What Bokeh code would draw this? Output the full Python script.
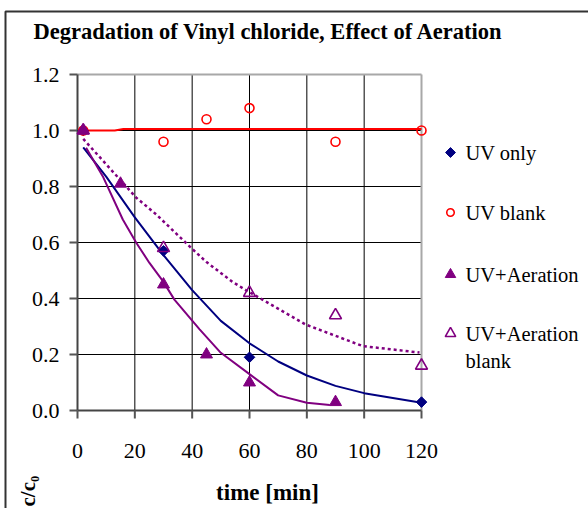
import math
from bokeh.plotting import figure
from bokeh.models import Range1d
from bokeh.core.properties import value
from bokeh.embed import file_html
from bokeh.resources import INLINE

# Measured points
uv_only_t = [2, 30, 60, 120]
uv_only_c = [1.0, 0.57, 0.19, 0.03]

uv_blank_t = [2, 30, 45, 60, 90, 120]
uv_blank_c = [1.0, 0.96, 1.04, 1.08, 0.96, 1.0]

uv_aer_t = [2, 15, 30, 45, 60, 90]
uv_aer_c = [1.0, 0.81, 0.45, 0.20, 0.10, 0.03]

uv_aer_blank_t = [2, 30, 60, 90, 120]
uv_aer_blank_c = [1.0, 0.58, 0.42, 0.34, 0.16]

# Model curves
fit_uv_only_t = [2, 10, 20, 30, 40, 50, 60, 70, 80, 90, 100, 110, 120]
fit_uv_only_c = [0.94, 0.835, 0.69, 0.555, 0.43, 0.32, 0.24, 0.175, 0.125, 0.088, 0.062, 0.045, 0.028]

fit_uv_blank_t = [2, 13, 16, 120]
fit_uv_blank_c = [1.0, 1.0, 1.005, 1.005]

fit_uv_aer_t = [3, 8.8, 15.8, 20.5, 25.1, 29.8, 33.8, 42.6, 50, 60, 70, 80, 88]
fit_uv_aer_c = [0.938, 0.837, 0.682, 0.599, 0.527, 0.462, 0.396, 0.29, 0.206, 0.13, 0.054, 0.028, 0.02]

fit_uv_aer_blank_t = [2, 17, 20.5, 27.5, 39, 45, 54, 58.7, 79.6, 99.5, 119.3]
fit_uv_aer_blank_c = [0.97, 0.80, 0.76, 0.70, 0.587, 0.53, 0.46, 0.43, 0.307, 0.23, 0.207]

x_ticks = [0, 20, 40, 60, 80, 100, 120]
x_tick_labels = ["0", "20", "40", "60", "80", "100", "120"]
y_ticks = [0.0, 0.2, 0.4, 0.6, 0.8, 1.0, 1.2]
y_tick_labels = ["0.0", "0.2", "0.4", "0.6", "0.8", "1.0", "1.2"]

series_names = ["UV only", "UV blank", "UV+Aeration", "UV+Aeration\nblank"]

NAVY = "#000080"
RED = "#ff0000"
PURPLE = "#800080"
SERIF = value("Liberation Serif")

W, H = 588, 508
# plot area edges in canvas pixels
LEFT, RIGHT, TOP, BOTTOM = 77, 421, 74, 410
X0, X1, Y0, Y1 = 0, 120, 0, 1.2


def dx(px):
    return X0 + (px - LEFT) * (X1 - X0) / (RIGHT - LEFT)


def dy(py):
    return Y0 + (BOTTOM - py) * (Y1 - Y0) / (BOTTOM - TOP)


# the frame covers the whole canvas so nothing outside the axes is clipped
p = figure(width=W, height=H, output_backend="svg", toolbar_location=None,
           x_range=Range1d(dx(0), dx(W)), y_range=Range1d(dy(H), dy(0)),
           x_axis_type=None, y_axis_type=None,
           min_border=0, min_border_left=0, min_border_right=0, min_border_top=0, min_border_bottom=0)
p.grid.visible = False
p.outline_line_color = None
p.background_fill_color = "white"
p.border_fill_color = "white"

# grid
inner_x = x_ticks[1:-1]
inner_y = y_ticks[1:-1]
p.segment(x0=inner_x, y0=[Y0] * len(inner_x), x1=inner_x, y1=[Y1] * len(inner_x),
          line_color="black", line_width=1)
p.segment(x0=[X0] * len(inner_y), y0=inner_y, x1=[X1] * len(inner_y), y1=inner_y,
          line_color="black", line_width=1)
# top and right edges of the plot area
p.segment(x0=[X0, X1], y0=[Y1, Y0], x1=[X1, X1], y1=[Y1, Y1], line_color="#a8a8a8", line_width=2)

# axes
p.segment(x0=[X0, X0], y0=[Y0, Y0], x1=[X0, X1], y1=[Y1, Y0], line_color="#444444", line_width=2)
p.segment(x0=[dx(LEFT - 8)] * len(y_ticks), y0=y_ticks, x1=[X0] * len(y_ticks), y1=y_ticks,
          line_color="#555555", line_width=2)
p.segment(x0=x_ticks, y0=[Y0] * len(x_ticks), x1=x_ticks, y1=[dy(BOTTOM + 8)] * len(x_ticks),
          line_color="#555555", line_width=2)
p.text(x=[dx(59)] * len(y_ticks), y=y_ticks, text=y_tick_labels, text_font=SERIF,
       text_font_size="22px", text_align="right", text_baseline="middle", text_color="black")
p.text(x=x_ticks, y=[dy(450)] * len(x_ticks), text=x_tick_labels, text_font=SERIF,
       text_font_size="22px", text_align="center", text_baseline="middle", text_color="black")

# fitted curves
p.line(fit_uv_blank_t, fit_uv_blank_c, line_color=RED, line_width=2)
p.line(fit_uv_only_t, fit_uv_only_c, line_color=NAVY, line_width=2)
p.line(fit_uv_aer_t, fit_uv_aer_c, line_color=PURPLE, line_width=2)
p.line(fit_uv_aer_blank_t, fit_uv_aer_blank_c, line_color=PURPLE, line_width=2.5, line_dash="3 3")

# measured series
only_style = dict(marker="square", angle=math.pi / 4, fill_color=NAVY, line_color=NAVY)
blank_style = dict(marker="circle", fill_color="white", fill_alpha=0, line_color=RED, line_width=1.6)
aer_style = dict(marker="triangle", fill_color=PURPLE, line_color=PURPLE)
aer_blank_style = dict(marker="triangle", fill_color="white", fill_alpha=0, line_color=PURPLE,
                       line_width=1.6)

p.scatter(uv_only_t, uv_only_c, size=7.5, **only_style)
p.scatter(uv_blank_t, uv_blank_c, size=9, **blank_style)
p.scatter(uv_aer_t, uv_aer_c, size=12, **aer_style)
p.scatter(uv_aer_blank_t, uv_aer_blank_c, size=12, **aer_blank_style)

# legend, right of the plot area
legend_rows = [152, 212, 274, 333]
legend_styles = [(only_style, 7), (blank_style, 7.5), (aer_style, 10.5), (aer_blank_style, 10.5)]
for row, (style, sz) in zip(legend_rows, legend_styles):
    p.scatter([dx(450)], [dy(row)], size=sz, **style)
for row, name in zip(legend_rows, series_names):
    for k, part in enumerate(name.split("\n")):
        p.text(x=[dx(465)], y=[dy(row + 27 * k)], text=[part], text_font=SERIF,
               text_font_size="20.5px", text_baseline="middle", text_align="left", text_color="black")

# texts around the plot area
p.text(x=[dx(33)], y=[dy(31)], text=["Degradation of Vinyl chloride, Effect of Aeration"],
       text_font=SERIF, text_font_size="22.5px", text_font_style="bold",
       text_baseline="middle", text_align="left", text_color="black")
p.text(x=[dx(267)], y=[dy(492)], text=["time [min]"], text_font=SERIF, text_font_size="23px",
       text_font_style="bold", text_baseline="middle", text_align="center", text_color="black")
p.text(x=[dx(27)], y=[dy(506)], text=["c/c\u2080"], text_font=SERIF, text_font_size="21px",
       text_font_style="bold", text_baseline="middle", text_align="left",
       angle=math.pi / 2, text_color="black")

# chart border
p.line(x=[dx(5), dx(5), dx(W + 20)], y=[dy(H + 20), dy(11), dy(11)], line_color="#333333", line_width=2)

open("out.html", "w").write(file_html(p, INLINE))
